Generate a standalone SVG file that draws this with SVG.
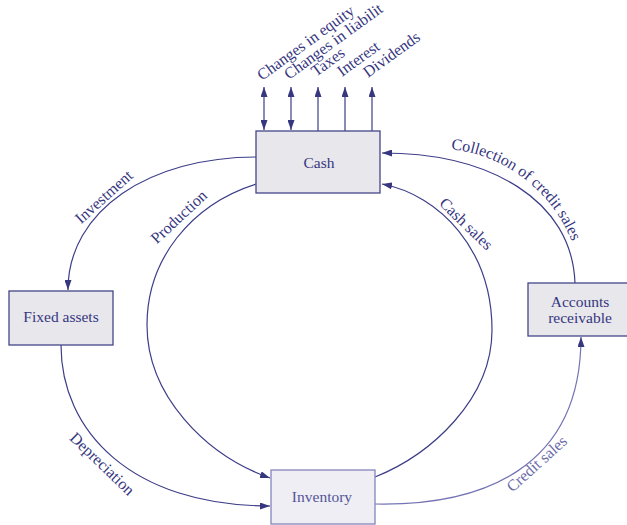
<svg xmlns="http://www.w3.org/2000/svg" width="627" height="525" viewBox="0 0 627 525">
  <defs>
    <marker id="arr" viewBox="0 0 10 7" refX="10" refY="3.5" markerWidth="10" markerHeight="7" markerUnits="userSpaceOnUse" orient="auto-start-reverse">
      <path d="M0,0 L10,3.5 L0,7 z" fill="#37377f"/>
    </marker>
    <path id="collPath" d="M445,149 C500,151 555,190 575,250"/>
  </defs>
  <style>
    .box { fill: #e7e7ec; stroke: #45458a; stroke-width: 1.3; }
    .boxLight { fill: #eeeef4; stroke: #8585bd; stroke-width: 1.3; }
    .conn { fill: none; stroke: #3d3d88; stroke-width: 1.2; }
    .connLight { fill: none; stroke: #7474b4; stroke-width: 1.2; }
    text { font-family: "Liberation Serif", "Times New Roman", serif; font-size: 16px; fill: #36367f; }
    .node { text-anchor: middle; font-size: 15.5px; }
    .lbl { text-anchor: middle; }
    .light { fill: #6a6aa8; }
  </style>
  <rect width="627" height="525" fill="#ffffff"/>

  <g id="connectors">
    <line class="conn" x1="264" y1="87" x2="264" y2="130" marker-start="url(#arr)" marker-end="url(#arr)"/>
    <line class="conn" x1="291" y1="87" x2="291" y2="130" marker-start="url(#arr)" marker-end="url(#arr)"/>
    <line class="conn" x1="318" y1="131" x2="318" y2="87" marker-end="url(#arr)"/>
    <line class="conn" x1="345" y1="131" x2="345" y2="87" marker-end="url(#arr)"/>
    <line class="conn" x1="372" y1="131" x2="372" y2="87" marker-end="url(#arr)"/>
    <path class="conn" d="M256,157 C150,157 68,210 68,290" marker-end="url(#arr)"/>
    <path class="conn" d="M256,184 C190,205 147,260 147,325 C147,395 205,455 270,478" marker-end="url(#arr)"/>
    <path class="conn" d="M375,477 C430,455 492,400 492,330 C492,250 440,195 382,184" marker-end="url(#arr)"/>
    <path class="conn" d="M575,283 C572,200 490,153 382,153" marker-end="url(#arr)"/>
    <path class="conn" d="M61,345 C61,430 130,506 270,506" marker-end="url(#arr)"/>
    <path class="connLight" d="M375,504 C480,506 581,470 581,337" marker-end="url(#arr)"/>

    <text transform="translate(262,81) rotate(-36)">Changes in equity</text>
    <text transform="translate(289,80) rotate(-36)">Changes in liabilit</text>
    <text transform="translate(316,77) rotate(-36)">Taxes</text>
    <text transform="translate(342,77) rotate(-36)">Interest</text>
    <text transform="translate(368,78) rotate(-36)">Dividends</text>

    <text class="lbl" transform="translate(104,197) rotate(-42)" y="5">Investment</text>
    <text class="lbl" transform="translate(179,217) rotate(-43)" y="5">Production</text>
    <text class="lbl" transform="translate(466,224) rotate(44)" y="5">Cash sales</text>
    <text class="lbl" transform="translate(102,464) rotate(44)" y="5">Depreciation</text>
    <text class="lbl light" transform="translate(537,464) rotate(-42)" y="5">Credit sales</text>
    <text><textPath href="#collPath" startOffset="6">Collection of credit sales</textPath></text>
  </g>

  <g id="cash">
    <rect class="box" x="256" y="131" width="124" height="62"/>
    <text class="node" x="319" y="168">Cash</text>
  </g>
  <g id="fixed-assets">
    <rect class="box" x="9" y="291" width="104" height="54"/>
    <text class="node" x="61" y="322">Fixed assets</text>
  </g>
  <g id="accounts-receivable">
    <rect class="box" x="528" y="283" width="104" height="53"/>
    <text class="node" x="580" y="307">Accounts</text>
    <text class="node" x="580" y="323">receivable</text>
  </g>
  <g id="inventory">
    <rect class="boxLight" x="271" y="470" width="104" height="54"/>
    <text class="node" x="322" y="502" style="fill:#55559a">Inventory</text>
  </g>
</svg>
